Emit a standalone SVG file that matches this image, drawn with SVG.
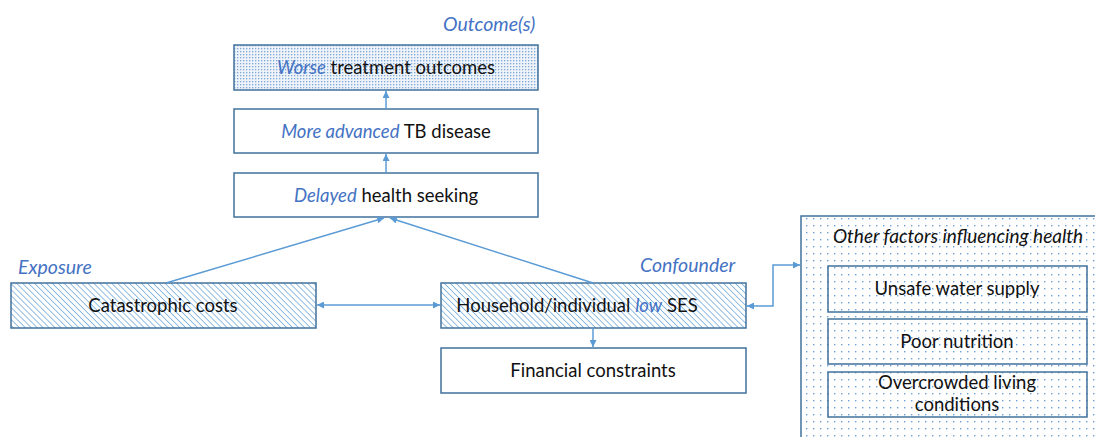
<svg xmlns="http://www.w3.org/2000/svg" width="1095" height="437" viewBox="0 0 1095 437">
<style>
.box{stroke:#41719c;stroke-width:1.5}
.t{font-family:Lato,"Noto Sans",sans-serif;font-size:18.5px;fill:#111;text-anchor:middle}
.i{font-style:italic;fill:#4472c4}
.lbl{font-family:Lato,"Noto Sans",sans-serif;font-size:19.5px;font-style:italic;fill:#4472c4}
.c{stroke:#5b9bd5;stroke-width:1.5;fill:none}
</style>
<defs>
<pattern id="hatch" width="4.2" height="4.2" patternUnits="userSpaceOnUse" patternTransform="rotate(-45)">
<rect width="4.2" height="4.2" fill="#fff"/>
<line x1="0" y1="0" x2="0" y2="4.2" stroke="#5b9bd5" stroke-width="1.3"/>
</pattern>
<pattern id="dense" width="3" height="3" patternUnits="userSpaceOnUse">
<rect width="3" height="3" fill="#eef3fa"/>
<rect x="0" y="0" width="1.3" height="1.3" fill="#7fa8d8"/>
</pattern>
<pattern id="sparse" width="7" height="7" patternUnits="userSpaceOnUse">
<rect width="7" height="7" fill="#fff"/>
<rect x="1" y="1" width="1.4" height="1.4" fill="#6e9fd6"/>
</pattern>
<marker id="ah" viewBox="0 0 10 10" refX="10" refY="5" markerWidth="7" markerHeight="7" orient="auto-start-reverse" markerUnits="userSpaceOnUse">
<path d="M0,0 L10,5 L0,10 z" fill="#5b9bd5"/>
</marker>
</defs>

<g id="outcome">
<rect class="box" x="234" y="45" width="304" height="45" fill="url(#dense)"/>
<text class="t" x="386" y="74"><tspan class="i">Worse</tspan> treatment outcomes</text>
</g>
<g id="advanced">
<rect class="box" x="234" y="109" width="304" height="44" fill="#fff"/>
<text class="t" x="386" y="138"><tspan class="i">More advanced</tspan> TB disease</text>
</g>
<g id="delayed">
<rect class="box" x="234" y="173" width="304" height="44" fill="#fff"/>
<text class="t" x="386" y="202"><tspan class="i">Delayed</tspan> health seeking</text>
</g>
<g id="exposure">
<text class="lbl" x="18" y="274">Exposure</text>
<rect class="box" x="11" y="283" width="305" height="45" fill="url(#hatch)"/>
<text class="t" x="163" y="312">Catastrophic costs</text>
</g>
<g id="confounder">
<text class="lbl" x="640" y="272">Confounder</text>
<rect class="box" x="441" y="283" width="305" height="45" fill="url(#hatch)"/>
<text class="t" x="577" y="312">Household/individual <tspan class="i">low</tspan> SES</text>
</g>
<g id="financial">
<rect class="box" x="441" y="348" width="305" height="45" fill="#fff"/>
<text class="t" x="593" y="377">Financial constraints</text>
</g>
<g id="outcome-label">
<text class="lbl" x="443" y="31">Outcome(s)</text>
</g>
<g id="other">
<rect class="box" x="801" y="216" width="300" height="230" fill="url(#sparse)"/>
<text class="t" x="958" y="243" style="font-style:italic;font-size:19px">Other factors influencing health</text>
<rect class="box" x="828" y="266" width="259" height="46" fill="none"/>
<text class="t" x="957" y="295">Unsafe water supply</text>
<rect class="box" x="828" y="319" width="259" height="45" fill="none"/>
<text class="t" x="957" y="348">Poor nutrition</text>
<rect class="box" x="828" y="372" width="259" height="45" fill="none"/>
<text class="t" x="957" y="389">Overcrowded living</text>
<text class="t" x="957" y="411">conditions</text>
</g>

<g id="connectors">
<line class="c" x1="386" y1="109" x2="386" y2="91" marker-end="url(#ah)"/>
<line class="c" x1="386" y1="173" x2="386" y2="154" marker-end="url(#ah)"/>
<line class="c" x1="166" y1="283" x2="384" y2="218" marker-end="url(#ah)"/>
<line class="c" x1="593" y1="283" x2="390" y2="218" marker-end="url(#ah)"/>
<line class="c" x1="317" y1="305" x2="440" y2="305" marker-start="url(#ah)" marker-end="url(#ah)"/>
<line class="c" x1="593" y1="328" x2="593" y2="347" marker-end="url(#ah)"/>
<polyline class="c" points="747,306 773,306 773,265 800,265" marker-start="url(#ah)" marker-end="url(#ah)"/>
</g>
</svg>
